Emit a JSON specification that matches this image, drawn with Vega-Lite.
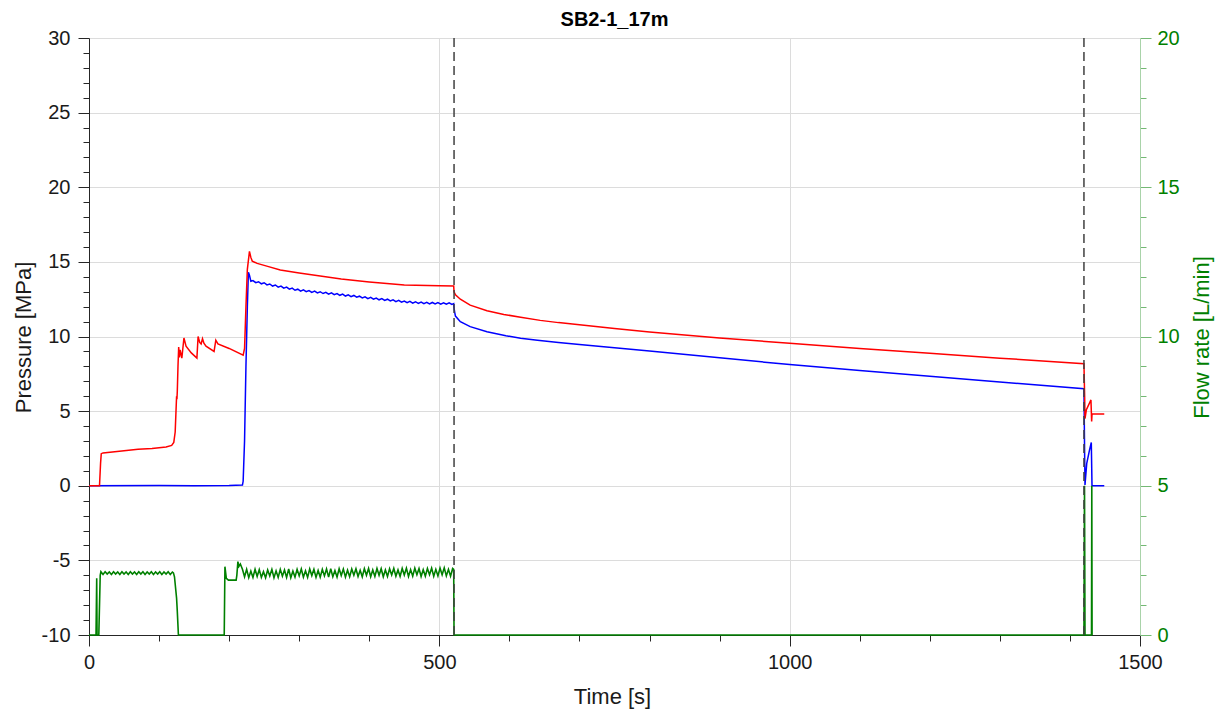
{
  "$schema": "https://vega.github.io/schema/vega-lite/v6.json",
  "autosize": {"type": "none"},
  "width": 1051,
  "height": 597,
  "padding": {"left": 89, "top": 38, "right": 87, "bottom": 80},
  "config": {"font": "Liberation Sans", "view": {"stroke": null}},
  "title": {"text": "SB2-1_17m", "fontSize": 20, "fontWeight": "bold", "color": "#000000", "anchor": "middle", "frame": "group", "offset": 10, "dy": 28, "baseline": "alphabetic"},
  "datasets": {
    "blue": [
      {"t": 0, "p": 0}, {"t": 100, "p": 0.02}, {"t": 150, "p": 0}, {"t": 200, "p": 0.02}, {"t": 219, "p": 0.05},
      {"t": 220, "p": 0.3}, {"t": 222, "p": 3}, {"t": 224, "p": 8}, {"t": 226, "p": 12}, {"t": 227.5, "p": 14.3},
      {"t": 229, "p": 14.1}, {"t": 231, "p": 13.7}, {"t": 234, "p": 13.75}, {"t": 238, "p": 13.61}, {"t": 242, "p": 13.67},
      {"t": 246, "p": 13.53}, {"t": 250, "p": 13.60}, {"t": 254, "p": 13.46}, {"t": 258, "p": 13.52}, {"t": 262, "p": 13.38},
      {"t": 266, "p": 13.45}, {"t": 270, "p": 13.31}, {"t": 274, "p": 13.38}, {"t": 278, "p": 13.24}, {"t": 282, "p": 13.31},
      {"t": 286, "p": 13.17}, {"t": 290, "p": 13.24}, {"t": 294, "p": 13.10}, {"t": 298, "p": 13.17}, {"t": 302, "p": 13.04},
      {"t": 306, "p": 13.12}, {"t": 310, "p": 13.00}, {"t": 314, "p": 13.08}, {"t": 318, "p": 12.96}, {"t": 322, "p": 13.04},
      {"t": 326, "p": 12.92}, {"t": 330, "p": 13.00}, {"t": 334, "p": 12.88}, {"t": 338, "p": 12.96}, {"t": 342, "p": 12.84},
      {"t": 346, "p": 12.92}, {"t": 350, "p": 12.80}, {"t": 354, "p": 12.88}, {"t": 358, "p": 12.76}, {"t": 362, "p": 12.84},
      {"t": 366, "p": 12.71}, {"t": 370, "p": 12.79}, {"t": 374, "p": 12.67}, {"t": 378, "p": 12.75}, {"t": 382, "p": 12.63},
      {"t": 386, "p": 12.70}, {"t": 390, "p": 12.58}, {"t": 394, "p": 12.66}, {"t": 398, "p": 12.54}, {"t": 402, "p": 12.62},
      {"t": 406, "p": 12.50}, {"t": 410, "p": 12.58}, {"t": 414, "p": 12.46}, {"t": 418, "p": 12.54}, {"t": 422, "p": 12.42},
      {"t": 426, "p": 12.50}, {"t": 430, "p": 12.38}, {"t": 434, "p": 12.46}, {"t": 438, "p": 12.34}, {"t": 442, "p": 12.42},
      {"t": 446, "p": 12.30}, {"t": 450, "p": 12.38}, {"t": 454, "p": 12.27}, {"t": 458, "p": 12.35}, {"t": 462, "p": 12.24},
      {"t": 466, "p": 12.33}, {"t": 470, "p": 12.22}, {"t": 474, "p": 12.31}, {"t": 478, "p": 12.20}, {"t": 482, "p": 12.29},
      {"t": 486, "p": 12.18}, {"t": 490, "p": 12.28}, {"t": 494, "p": 12.18}, {"t": 498, "p": 12.27}, {"t": 502, "p": 12.17},
      {"t": 506, "p": 12.26}, {"t": 510, "p": 12.16}, {"t": 514, "p": 12.26}, {"t": 518, "p": 12.15}, {"t": 520.5, "p": 12.2},
      {"t": 521, "p": 11.9}, {"t": 522, "p": 11.6}, {"t": 523, "p": 11.37}, {"t": 530, "p": 10.99}, {"t": 544, "p": 10.66},
      {"t": 568, "p": 10.32}, {"t": 595, "p": 10.05}, {"t": 616, "p": 9.89}, {"t": 640, "p": 9.75}, {"t": 670, "p": 9.6},
      {"t": 700, "p": 9.47}, {"t": 750, "p": 9.25}, {"t": 800, "p": 9.03},
      {"t": 900, "p": 8.57}, {"t": 1000, "p": 8.12}, {"t": 1100, "p": 7.72}, {"t": 1200, "p": 7.33}, {"t": 1300, "p": 6.95},
      {"t": 1420, "p": 6.5}, {"t": 1421, "p": 2}, {"t": 1421.5, "p": 0.05}, {"t": 1424, "p": 1.5}, {"t": 1428, "p": 2.4},
      {"t": 1430.5, "p": 2.9}, {"t": 1431.5, "p": 0}, {"t": 1449, "p": 0}
    ],
    "red": [
      {"t": 0, "p": 0}, {"t": 15, "p": 0}, {"t": 16.5, "p": 1.5}, {"t": 17.5, "p": 2.15}, {"t": 20, "p": 2.2},
      {"t": 30, "p": 2.25}, {"t": 50, "p": 2.35}, {"t": 70, "p": 2.45}, {"t": 90, "p": 2.5}, {"t": 110, "p": 2.6},
      {"t": 118, "p": 2.7}, {"t": 121, "p": 2.9}, {"t": 123, "p": 3.6}, {"t": 124, "p": 4.8}, {"t": 125, "p": 6.0},
      {"t": 125.5, "p": 5.8}, {"t": 126, "p": 6.3}, {"t": 127, "p": 8.0}, {"t": 128, "p": 9.3}, {"t": 129, "p": 8.6},
      {"t": 130, "p": 9.1}, {"t": 132.5, "p": 8.55}, {"t": 135.5, "p": 9.9}, {"t": 138.5, "p": 9.35}, {"t": 146, "p": 8.9},
      {"t": 154, "p": 8.55}, {"t": 155.7, "p": 10.0}, {"t": 158, "p": 9.6}, {"t": 160, "p": 9.5}, {"t": 162, "p": 9.85},
      {"t": 164, "p": 9.55}, {"t": 167, "p": 9.35}, {"t": 178.5, "p": 9.0}, {"t": 181, "p": 9.75}, {"t": 184, "p": 9.5},
      {"t": 200, "p": 9.2}, {"t": 220, "p": 8.75}, {"t": 222, "p": 9.2}, {"t": 224, "p": 12}, {"t": 226, "p": 14.5},
      {"t": 228, "p": 15.3}, {"t": 229, "p": 15.7}, {"t": 231, "p": 15.3}, {"t": 233, "p": 15.05}, {"t": 240, "p": 14.9},
      {"t": 255, "p": 14.7}, {"t": 273, "p": 14.45}, {"t": 300, "p": 14.25}, {"t": 330, "p": 14.05}, {"t": 360, "p": 13.85},
      {"t": 400, "p": 13.65}, {"t": 450, "p": 13.45}, {"t": 500, "p": 13.4}, {"t": 520.5, "p": 13.38}, {"t": 521, "p": 13.0},
      {"t": 523, "p": 12.8}, {"t": 530, "p": 12.5}, {"t": 544, "p": 12.1}, {"t": 568, "p": 11.73}, {"t": 592, "p": 11.48},
      {"t": 616, "p": 11.29}, {"t": 644, "p": 11.08}, {"t": 670, "p": 10.93}, {"t": 700, "p": 10.79}, {"t": 750, "p": 10.54},
      {"t": 800, "p": 10.3}, {"t": 900, "p": 9.9}, {"t": 1000, "p": 9.55},
      {"t": 1100, "p": 9.2}, {"t": 1200, "p": 8.88}, {"t": 1300, "p": 8.55}, {"t": 1420, "p": 8.18}, {"t": 1421, "p": 6},
      {"t": 1421.5, "p": 4.5}, {"t": 1423.5, "p": 5.1}, {"t": 1430, "p": 5.75}, {"t": 1431, "p": 4.3}, {"t": 1431.5, "p": 4.8},
      {"t": 1449, "p": 4.8}
    ],
    "green": [
      {"t": 0, "q": 0}, {"t": 10, "q": 0}, {"t": 11, "q": 1.9}, {"t": 11.5, "q": 0}, {"t": 14, "q": 0},
      {"t": 16, "q": 2.0}, {"t": 17, "q": 2.12}, {"t": 20, "q": 2.03}, {"t": 23, "q": 2.12}, {"t": 26, "q": 2.04},
      {"t": 29, "q": 2.11}, {"t": 32, "q": 2.03}, {"t": 35, "q": 2.12}, {"t": 38, "q": 2.04}, {"t": 41, "q": 2.11},
      {"t": 44, "q": 2.03}, {"t": 47, "q": 2.12}, {"t": 50, "q": 2.04}, {"t": 53, "q": 2.11}, {"t": 56, "q": 2.03},
      {"t": 59, "q": 2.12}, {"t": 62, "q": 2.04}, {"t": 65, "q": 2.11}, {"t": 68, "q": 2.03}, {"t": 71, "q": 2.12},
      {"t": 74, "q": 2.04}, {"t": 77, "q": 2.12}, {"t": 80, "q": 2.03}, {"t": 83, "q": 2.11}, {"t": 86, "q": 2.04},
      {"t": 89, "q": 2.12}, {"t": 92, "q": 2.03}, {"t": 95, "q": 2.11}, {"t": 98, "q": 2.04}, {"t": 101, "q": 2.12},
      {"t": 104, "q": 2.03}, {"t": 107, "q": 2.11}, {"t": 110, "q": 2.04}, {"t": 113, "q": 2.12}, {"t": 116, "q": 2.03},
      {"t": 119, "q": 2.11}, {"t": 120.5, "q": 2.08}, {"t": 122, "q": 1.95}, {"t": 125, "q": 1.23}, {"t": 126, "q": 0.8},
      {"t": 127.6, "q": 0}, {"t": 193, "q": 0}, {"t": 194, "q": 2.29}, {"t": 196, "q": 1.9}, {"t": 199, "q": 1.84},
      {"t": 210, "q": 1.84}, {"t": 211, "q": 2.0}, {"t": 212.5, "q": 2.46}, {"t": 214, "q": 2.3}, {"t": 216, "q": 2.38},
      {"t": 219, "q": 2.2}, {"t": 222, "q": 1.95}, {"t": 225, "q": 2.2}, {"t": 228, "q": 1.92}, {"t": 231, "q": 2.14},
      {"t": 234, "q": 1.93}, {"t": 237, "q": 2.2}, {"t": 240, "q": 1.96}, {"t": 243, "q": 2.19}, {"t": 246, "q": 1.93},
      {"t": 249, "q": 2.12}, {"t": 252, "q": 1.92}, {"t": 255, "q": 2.18}, {"t": 258, "q": 1.98}, {"t": 261, "q": 2.2},
      {"t": 264, "q": 1.92}, {"t": 267, "q": 2.15}, {"t": 270, "q": 1.93}, {"t": 273, "q": 2.2}, {"t": 276, "q": 1.97},
      {"t": 279, "q": 2.18}, {"t": 282, "q": 1.93}, {"t": 285, "q": 2.21}, {"t": 288, "q": 1.92}, {"t": 291, "q": 2.14},
      {"t": 294, "q": 1.94}, {"t": 297, "q": 2.2}, {"t": 300, "q": 1.98}, {"t": 303, "q": 2.21}, {"t": 306, "q": 1.94},
      {"t": 309, "q": 2.15}, {"t": 312, "q": 1.93}, {"t": 315, "q": 2.21}, {"t": 318, "q": 1.99}, {"t": 321, "q": 2.2},
      {"t": 324, "q": 1.93}, {"t": 327, "q": 2.16}, {"t": 330, "q": 1.94}, {"t": 333, "q": 2.2}, {"t": 336, "q": 1.98},
      {"t": 339, "q": 2.21}, {"t": 342, "q": 1.94}, {"t": 345, "q": 2.22}, {"t": 348, "q": 1.95}, {"t": 351, "q": 2.16},
      {"t": 354, "q": 1.94}, {"t": 357, "q": 2.22}, {"t": 360, "q": 1.99}, {"t": 363, "q": 2.21}, {"t": 366, "q": 1.94},
      {"t": 369, "q": 2.17}, {"t": 372, "q": 1.95}, {"t": 375, "q": 2.21}, {"t": 378, "q": 2.0}, {"t": 381, "q": 2.22},
      {"t": 384, "q": 1.96}, {"t": 387, "q": 2.17}, {"t": 390, "q": 1.95}, {"t": 393, "q": 2.22}, {"t": 396, "q": 2.0},
      {"t": 399, "q": 2.23}, {"t": 402, "q": 1.95}, {"t": 405, "q": 2.18}, {"t": 408, "q": 1.96}, {"t": 411, "q": 2.23},
      {"t": 414, "q": 2.0}, {"t": 417, "q": 2.22}, {"t": 420, "q": 1.95}, {"t": 423, "q": 2.18}, {"t": 426, "q": 1.96},
      {"t": 429, "q": 2.22}, {"t": 432, "q": 2.01}, {"t": 435, "q": 2.23}, {"t": 438, "q": 1.97}, {"t": 441, "q": 2.18},
      {"t": 444, "q": 1.96}, {"t": 447, "q": 2.23}, {"t": 450, "q": 2.01}, {"t": 453, "q": 2.24}, {"t": 456, "q": 1.96},
      {"t": 459, "q": 2.19}, {"t": 462, "q": 1.97}, {"t": 465, "q": 2.24}, {"t": 468, "q": 2.02}, {"t": 471, "q": 2.23},
      {"t": 474, "q": 1.96}, {"t": 477, "q": 2.19}, {"t": 480, "q": 1.97}, {"t": 483, "q": 2.23}, {"t": 486, "q": 2.02},
      {"t": 489, "q": 2.24}, {"t": 492, "q": 1.97}, {"t": 495, "q": 2.2}, {"t": 498, "q": 1.98}, {"t": 501, "q": 2.24},
      {"t": 504, "q": 2.02}, {"t": 507, "q": 2.25}, {"t": 510, "q": 1.98}, {"t": 513, "q": 2.2}, {"t": 516, "q": 1.97},
      {"t": 519, "q": 2.23}, {"t": 520.5, "q": 2.2}, {"t": 521, "q": 0}, {"t": 1420, "q": 0}, {"t": 1420.8, "q": 5.0},
      {"t": 1421.5, "q": 0}, {"t": 1430.8, "q": 0}, {"t": 1431.2, "q": 5.0}, {"t": 1431.6, "q": 0}
    ],
    "events": [{"t": 521}, {"t": 1420}]
  },
  "encoding": {
    "x": {
      "field": "t", "type": "quantitative",
      "scale": {"domain": [0, 1500], "nice": false, "zero": false},
      "axis": {
        "orient": "bottom",
        "values": [0, 100, 200, 300, 400, 500, 600, 700, 800, 900, 1000, 1100, 1200, 1300, 1400, 1500],
        "labelExpr": "datum.value % 500 === 0 ? '' + datum.value : ''",
        "tickSize": {"condition": {"test": "datum.value % 500 === 0", "value": 11}, "value": 6},
        "gridOpacity": {"condition": {"test": "datum.value % 500 === 0 && datum.value > 0 && datum.value < 1500", "value": 1}, "value": 0},
        "grid": true,
        "gridColor": "#dcdcdc",
        "domainColor": "#262626",
        "tickColor": "#262626",
        "labelColor": "#1a1a1a",
        "labelFontSize": 20,
        "labelPadding": 6,
        "labelFlush": false,
        "labelOverlap": false,
        "title": "Time [s]",
        "titleFontSize": 22,
        "titleFontWeight": "normal",
        "titleColor": "#1a1a1a",
        "titleX": 523,
        "titleY": 68,
        "titleAlign": "center",
        "titleBaseline": "alphabetic"
      }
    }
  },
  "layer": [
    {
      "encoding": {
        "y": {
          "field": "p", "type": "quantitative",
          "scale": {"domain": [-10, 30], "nice": false, "zero": false},
          "axis": {
            "orient": "left",
            "values": [-10, -9, -8, -7, -6, -5, -4, -3, -2, -1, 0, 1, 2, 3, 4, 5, 6, 7, 8, 9, 10, 11, 12, 13, 14, 15, 16, 17, 18, 19, 20, 21, 22, 23, 24, 25, 26, 27, 28, 29, 30],
            "labelExpr": "datum.value % 5 === 0 ? '' + datum.value : ''",
            "tickSize": {"condition": {"test": "datum.value % 5 === 0", "value": 11}, "value": 6},
            "gridOpacity": {"condition": {"test": "datum.value % 5 === 0", "value": 1}, "value": 0},
            "grid": true,
            "gridColor": "#dcdcdc",
            "domainColor": "#262626",
            "tickColor": "#262626",
            "labelColor": "#1a1a1a",
            "labelFontSize": 20,
            "labelPadding": 8,
            "labelOverlap": false,
            "labelFlush": false,
            "title": "Pressure [MPa]",
            "titleFontSize": 22,
            "titleFontWeight": "normal",
            "titleColor": "#1a1a1a",
            "titleX": -66,
            "titleY": 299,
            "titleAngle": 270,
            "titleAlign": "center",
            "titleBaseline": "middle"
          }
        }
      },
      "layer": [
        {"data": {"name": "blue"}, "mark": {"type": "line", "color": "#0000ff", "strokeWidth": 1.5}},
        {"data": {"name": "red"}, "mark": {"type": "line", "color": "#ff0000", "strokeWidth": 1.5}}
      ]
    },
    {
      "data": {"name": "green"},
      "mark": {"type": "line", "color": "#008000", "strokeWidth": 1.6},
      "encoding": {
        "y": {
          "field": "q", "type": "quantitative",
          "scale": {"domain": [0, 20], "nice": false, "zero": false},
          "axis": {
            "orient": "right",
            "values": [0, 1, 2, 3, 4, 5, 6, 7, 8, 9, 10, 11, 12, 13, 14, 15, 16, 17, 18, 19, 20],
            "labelExpr": "datum.value % 5 === 0 ? '' + datum.value : ''",
            "tickSize": {"condition": {"test": "datum.value % 5 === 0", "value": 11}, "value": 6},
            "grid": false,
            "domainColor": "#a9d3a9",
            "tickColor": "#74b874",
            "labelColor": "#008000",
            "labelFontSize": 20,
            "labelPadding": 6,
            "labelOverlap": false,
            "labelFlush": false,
            "title": "Flow rate [L/min]",
            "titleFontSize": 22,
            "titleFontWeight": "normal",
            "titleColor": "#008000",
            "titleX": 61,
            "titleY": 299,
            "titleAngle": 270,
            "titleAlign": "center",
            "titleBaseline": "middle"
          }
        }
      }
    },
    {
      "data": {"name": "events"},
      "mark": {"type": "rule", "color": "#404040", "strokeWidth": 1.5, "strokeDash": [9, 5]},
      "encoding": {}
    }
  ],
  "resolve": {"scale": {"y": "independent"}}
}
